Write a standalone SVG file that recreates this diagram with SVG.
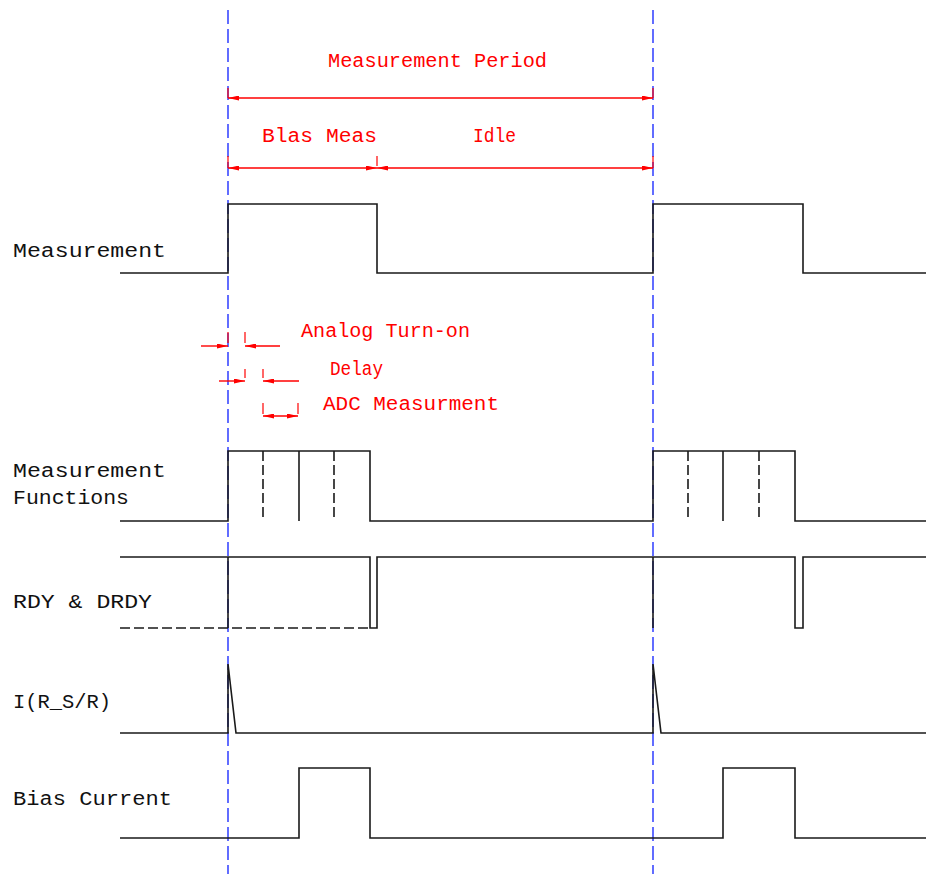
<svg xmlns="http://www.w3.org/2000/svg" width="926" height="874" viewBox="0 0 926 874">
<style>
.sig{fill:none;stroke:#1a1a1a;stroke-width:1.6;stroke-linejoin:miter}
.dsh{fill:none;stroke:#1a1a1a;stroke-width:1.6;stroke-dasharray:10 4}
.guide{fill:none;stroke:#2030ff;stroke-width:1.4;stroke-dasharray:14 5}
.dim{fill:none;stroke:#ff0000;stroke-width:1.4}
.tick{fill:none;stroke:#ff0000;stroke-width:1.2}
.lbl{font-family:"Liberation Mono","DejaVu Sans Mono",monospace;font-size:20px;fill:#111}
.rlbl{font-family:"Liberation Mono","DejaVu Sans Mono",monospace;font-size:20px;fill:#ff0000}
</style>
<defs>
<marker id="ah" viewBox="0 0 11 5" refX="11" refY="2.5" markerWidth="11" markerHeight="5" markerUnits="userSpaceOnUse" orient="auto-start-reverse">
<path d="M0,0 L11,2.5 L0,5 z" fill="#ff0000"/>
</marker>
</defs>
<rect width="926" height="874" fill="#ffffff"/>

<g id="guides">
<line class="guide" x1="228" y1="10" x2="228" y2="874"/>
<line class="guide" x1="653" y1="10" x2="653" y2="874"/>
</g>

<g id="dimensions">
<g id="measurement-period">
<line class="tick" x1="228" y1="88" x2="228" y2="98"/>
<line class="tick" x1="653" y1="88" x2="653" y2="98"/>
<line class="dim" x1="228" y1="98" x2="653" y2="98" marker-start="url(#ah)" marker-end="url(#ah)"/>
<text class="rlbl" x="328" y="67" textLength="219" lengthAdjust="spacingAndGlyphs">Measurement Period</text>
</g>
<g id="bias-meas">
<line class="tick" x1="228" y1="156" x2="228" y2="168"/>
<line class="tick" x1="377" y1="156" x2="377" y2="166"/>
<line class="tick" x1="653" y1="156" x2="653" y2="168"/>
<line class="dim" x1="228" y1="168" x2="377" y2="168" marker-start="url(#ah)" marker-end="url(#ah)"/>
<line class="dim" x1="377" y1="168" x2="653" y2="168" marker-start="url(#ah)" marker-end="url(#ah)"/>
<text class="rlbl" x="262" y="142" textLength="115" lengthAdjust="spacingAndGlyphs">Blas Meas</text>
<text class="rlbl" x="473" y="142" textLength="43" lengthAdjust="spacingAndGlyphs">Idle</text>
</g>
<g id="analog-turn-on">
<line class="tick" x1="228" y1="332" x2="228" y2="343"/>
<line class="tick" x1="245" y1="332" x2="245" y2="343"/>
<line class="dim" x1="201" y1="346" x2="228" y2="346" marker-end="url(#ah)"/>
<line class="dim" x1="280" y1="346" x2="245" y2="346" marker-end="url(#ah)"/>
<text class="rlbl" x="301" y="337" textLength="169" lengthAdjust="spacingAndGlyphs">Analog Turn-on</text>
</g>
<g id="delay">
<line class="tick" x1="245" y1="369" x2="245" y2="378"/>
<line class="tick" x1="263" y1="369" x2="263" y2="378"/>
<line class="dim" x1="219" y1="381" x2="245" y2="381" marker-end="url(#ah)"/>
<line class="dim" x1="299" y1="381" x2="263" y2="381" marker-end="url(#ah)"/>
<text class="rlbl" x="330" y="375" textLength="53" lengthAdjust="spacingAndGlyphs">Delay</text>
</g>
<g id="adc-measurement">
<line class="tick" x1="263" y1="403" x2="263" y2="414"/>
<line class="tick" x1="298" y1="403" x2="298" y2="414"/>
<line class="dim" x1="263" y1="416" x2="298" y2="416" marker-start="url(#ah)" marker-end="url(#ah)"/>
<text class="rlbl" x="323" y="410" textLength="176" lengthAdjust="spacingAndGlyphs">ADC Measurment</text>
</g>
</g>

<g id="measurement">
<text class="lbl" x="13" y="257" textLength="153" lengthAdjust="spacingAndGlyphs">Measurement</text>
<polyline class="sig" points="120,273 228,273 228,204 377,204 377,273 653,273 653,204 803,204 803,273 926,273"/>
</g>

<g id="measurement-functions">
<text class="lbl" x="13" y="477" textLength="153" lengthAdjust="spacingAndGlyphs">Measurement</text>
<text class="lbl" x="13" y="504" textLength="116" lengthAdjust="spacingAndGlyphs">Functions</text>
<polyline class="sig" points="120,521 228,521 228,451 370,451 370,521 653,521 653,451 795,451 795,521 926,521"/>
<line class="dsh" x1="263" y1="451" x2="263" y2="521"/>
<line class="sig" x1="299" y1="451" x2="299" y2="521"/>
<line class="dsh" x1="334" y1="451" x2="334" y2="521"/>
<line class="dsh" x1="688" y1="451" x2="688" y2="521"/>
<line class="sig" x1="723" y1="451" x2="723" y2="521"/>
<line class="dsh" x1="759" y1="451" x2="759" y2="521"/>
</g>

<g id="rdy-drdy">
<text class="lbl" x="13" y="608" textLength="139" lengthAdjust="spacingAndGlyphs">RDY &amp; DRDY</text>
<polyline class="sig" points="120,557 370,557 370,628 377,628 377,557 795,557 795,628 803,628 803,557 926,557"/>
<line class="dsh" x1="120" y1="628" x2="370" y2="628"/>
<line class="sig" x1="228" y1="557" x2="228" y2="628"/>
<line class="sig" x1="653" y1="557" x2="653" y2="628"/>
</g>

<g id="i-rs-r">
<text class="lbl" x="13" y="708" textLength="98" lengthAdjust="spacingAndGlyphs">I(R_S/R)</text>
<polyline class="sig" points="120,733 228,733 228,664 236,733 653,733 653,664 661,733 926,733"/>
</g>

<g id="bias-current">
<text class="lbl" x="13" y="805" textLength="159" lengthAdjust="spacingAndGlyphs">Bias Current</text>
<polyline class="sig" points="120,838 299,838 299,768 370,768 370,838 723,838 723,768 795,768 795,838 926,838"/>
</g>
</svg>
